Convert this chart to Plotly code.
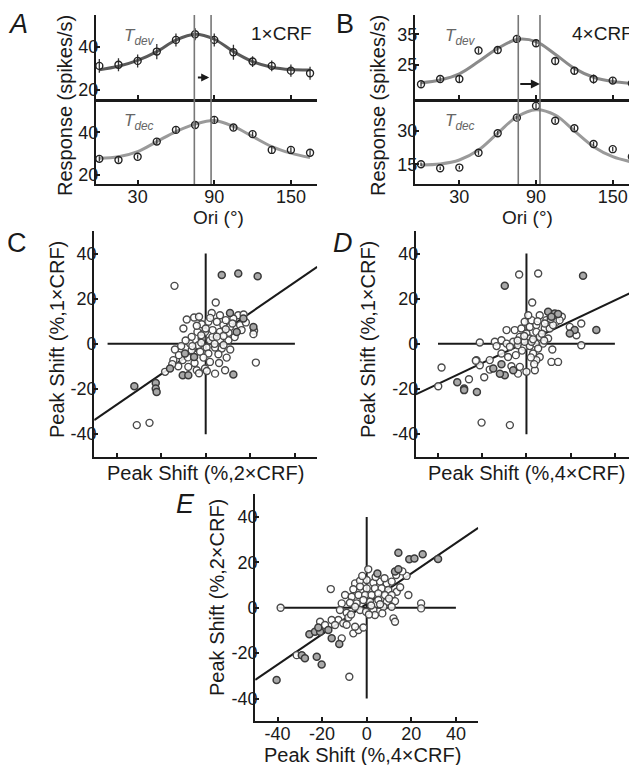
import plotly.graph_objects as go

# Page body has an 8 px default margin, so the figure is drawn 8 px in from the corner.
OFF = 8
W, H = 637 - OFF, 765 - OFF
FONT = "Liberation Sans, Arial, sans-serif"
INK = "#1a1a1a"

# ---------------- Panel A / B data (orientation tuning) ----------------
ori = [0, 15, 30, 45, 60, 75, 90, 105, 120, 135, 150, 165]

a_dev = [31.1, 31.6, 33.4, 37.7, 43.1, 45.7, 43.1, 37.4, 33.1, 31.1, 28.9, 27.7]
a_dev_err = [3.2, 3.0, 3.0, 3.5, 3.0, 2.8, 3.0, 3.5, 2.5, 2.5, 2.8, 3.0]
a_dev_fit = [29.3, 30.9, 33.6, 37.7, 43.0, 45.7, 43.4, 37.7, 33.1, 30.5, 29.4, 29.2]

a_dec = [27.5, 27.0, 28.5, 35.6, 41.1, 43.4, 45.8, 42.2, 39.1, 31.7, 31.7, 30.4]
a_dec_err = [1.2, 1.2, 1.0, 1.5, 1.5, 1.5, 1.5, 1.2, 1.2, 1.5, 1.2, 1.2]
a_dec_fit = [27.8, 28.5, 30.9, 35.6, 40.3, 43.8, 45.5, 42.7, 38.0, 33.3, 30.2, 28.1]

b_dev = [18.7, 20.4, 20.4, 29.7, 29.9, 33.5, 32.1, 26.3, 23.1, 20.4, 19.9, 19.0]
b_dev_err = [0.8, 0.8, 1.0, 0.8, 1.0, 1.2, 1.2, 1.0, 1.2, 1.5, 1.0, 0.8]
b_dev_fit = [19.2, 20.1, 22.1, 26.1, 30.4, 33.3, 32.6, 28.5, 23.9, 21.0, 19.6, 19.0]

b_dec = [15.0, 13.2, 13.5, 20.2, 29.0, 36.0, 41.3, 34.6, 31.2, 24.1, 21.8, 18.4]
b_dec_err = [0.8, 0.8, 0.8, 1.0, 1.0, 1.0, 1.2, 1.0, 1.0, 1.0, 1.0, 1.0]
b_dec_fit = [14.7, 15.1, 16.9, 21.4, 29.0, 36.4, 39.6, 37.2, 30.0, 22.9, 18.4, 16.0]

a_peaks = [74.4, 87.5]
b_peaks = [76.1, 93.1]
a_arrow_x = [76.0, 86.0]
a_arrow_y = 25.7
b_arrow_x = [76.5, 93.0]
b_arrow_y = 18.8

ori_ticks = [30, 90, 150]
a_yticks = [20, 40]
b_top_yticks = [25, 35]
b_bot_yticks = [15, 30]

# ---------------- Panel C: 2xCRF (x) vs 1xCRF (y) ----------------
c_open_x = [-14, 4.5, -8.5, -5.2, -10, 2.7, 6.4, 14.6, 12.4, 5, 1.2, -1.8, 7.9, 10.9, 15.4, 21.7, 21.4,
            16.1, 10.2, 6.4, 3.1, -0.3, -3.7, -6.3, -1.8, 1.9, 6.4, 10.2, -7, -3.3, 0.4, 4.2, 7.2, -6.3,
            -2.5, 1.2, 5.7, 9.4, -13.8, -1, 1.9, -10.3, -14.5, -12.3, -7.8, -4, -0.3, 4.2, 8.7, 22.5,
            -18.2, -30.9, -25.2, 3, 8, 12, 9, 2, -4, -2, 4, 8, -9, -11, -5, -8, -12, 13, 18, -3, 0.5, 6,
            -2, 5, 9, -6, 11, -15, 17, -3, 0]
c_open_y = [25.7, 18.3, 10.8, 11.7, 6.8, 13.7, 12.7, 12.7, 11.2, 9.8, 9.8, 8.7, 8.3, 7.5, 8.3, 5.8, 4.3,
            6.1, 4.9, 5.3, 6.1, 5.3, 5.3, 3.1, 2.4, 1.6, 1.6, 1.6, 0.1, -0.6, -1.6, -1.6, -2.1, -2.8,
            -3.5, -4.3, -4.6, -6.1, -2.5, -6.1, -8, -7.2, -7.2, -9.9, -10.2, -11.7, -10.9, -13.2, -11.7, -8.3,
            -12.4, -36, -35, 3, 3.5, 9, 10.5, 11.5, 8, 0.5, 0, -0.5, 1.5, -1, -8.5, -6, -5, 3, 9.5, -13, -12, -8.5,
            3.8, 3.2, 6.5, -1, -2.5, -9, 13, 12, 6.8]
c_dark_x = [7.2, 14.6, 23.3, -32, -22.4, -22.4, -22, 10.9, -16, -10.3, 13.9, -5.2, 21.4, -7.8, 16.9, -9.3, 12.4]
c_dark_y = [30.5, 31.2, 30, -18.8, -17.3, -19.8, -21.3, 13.7, -10.9, -13.9, 5.3, -5.8, 7.5, -13.9, 11.2, -4.3, -13.6]
c_fit_x = [-50, 50]
c_fit_y = [-33.8, 34.1]
c_cross_h = [-44, 40]
c_cross_v = [-40, 40]

# ---------------- Panel D: 4xCRF (x) vs 1xCRF (y) ----------------
d_open_x = [-3.3, 5.3, 2.6, -38.4, -21.1, -22.6, -21.1, -16.6, -6.8, -3.8, 0, 3.8, -3, -8.3, -4.8, -11.3,
            -14.3, -11.3, -13.5, -9, -6, -7.5, -3.8, -1, 1.5, 4.2, 7.5, 5.3, 3, 6, 4.5, 11.3, 14.3, 11.7,
            -9, -5.3, -2.3, 1.5, 4.5, 8.3, 10.5, -0.8, 2.3, 6, 0.8, 9, 13.5, 12, 8.3, 4.5, 0, -3, 1.5, 6,
            9.8, 19.6, 22.6, 24.8, 24.8, -0.8, 2.3, -39.9, -26, -20.3, -7.5, -22.9, -19.1, -16.6,
            7, 11, 3, -2, 16, 2, 5, -1, 8, 15, -4, 3.5]
d_open_y = [30.7, 31.2, 18.3, -10.5, 0.6, -7.2, -9.5, -7.2, -9.9, -13.2, -12.4, -11.7, -10.2, -5.8, -5, -4.3,
            0.9, 1.6, -1, 0.1, 0.9, -1.3, -0.6, -1.3, -1, 0.1, 0.1, -2.1, -4.3, -5.8, -7.2, -8, -8, -2.5,
            6.1, 6.1, 6.8, 7.5, 8.3, 6.8, 6.8, 9.8, 10.5, 12.7, 12.7, 10.5, 9.8, 8.3, 9, 5.3, 4.6, 3.1, 2.4, 3.1,
            2.4, 7.5, 3.8, 9, -0.6, 0.9, 0.9, -18.8, -15.7, -34.9, -36, -7.5, -14.8, -11.4,
            4.5, 11, 2, -3, 12, -6, 10, 3.5, 1.5, 10.5, 1.5, -9]
d_dark_x = [25.6, -9.8, -31.3, -28.2, -28.2, -22.4, -11.3, -9.8, -12, 9.8, 12.8, 14.3, 31.6, 21.8, 19.6, -6, -15, 11.3]
d_dark_y = [30.2, 25.7, -17, -19.8, -20.5, -21.3, -9, -13.9, -13.2, 14.2, 13.5, 13.2, 6.1, 6.1, 4.6, -11.7, -10.9, 12]
d_fit_x = [-50, 50]
d_fit_y = [-22.4, 23.9]
d_cross_h = [-40, 40]
d_cross_v = [-40, 40]

# ---------------- Panel E: 4xCRF (x) vs 2xCRF (y) ----------------
e_open_x = [-38.6, 0.7, -16.1, 13.2, 17.9, 18.7, 24.4, 24.4, 12, 12.7, -5.2, -3, 0, 3, 6, 9, 11.2, -3, -6, 0,
            3.7, 6.7, 9.7, 13.5, -9.7, -6.7, -3.7, -0.7, 2.2, 5.2, 8.2, 11.2, 12.7, 9, 5.2, 1.5, -1.5, -4.5,
            -7.5, -11.2, -12, -9, -3, -0.3, 3, 3.7, 7.5, 11.2, -5.2, -8.2, -12.7, -15.7, -10.5, -14.2, -20.9,
            -20.9, -18.7, -11.2, -6, -3.7, -1.5, -5.2, -31.4, -7.8, 2, 6, 4, 8, -2, 10, 1, -7, 15, 7, 16, -9]
e_open_y = [0, 16.9, 8.2, 14.4, 14, 5.6, 1.9, -0.3, -4.7, -6.2, 10.7, 11.9, 12.2, 11, 11.5, 10.7, 11.5, 9.3, 8.1, 8.5,
            8.5, 8.5, 7.8, 7, 5.6, 4.8, 5.6, 5.6, 5.6, 6.3, 5.6, 5.6, 2.9, 2.6, 3.4, 2.6, 3.4, 1.9,
            2.2, 1.9, -1, -2.2, -1, -1.8, -1, -3.2, 0.4, 0.4, 0.4, -4.3, -5.4, -5.4, -6.9, -7.6, -6.2,
            -10.6, -7.6, -13.5, -11.3, -9.8, -8.7, -8.4, -20.9, -30.4, 1, 1.5, 13.5, 13, 14, 4, -3, -3, 9, -2.5, 16, -7.5]
e_dark_x = [14.2, 19.1, 21.4, 25.1, 32, -40.4, -29.1, -27.7, -22.4, -20.2, -25.7, -23.2, -20.9, -15.7, -12.3,
            12.7, 14.2, 4.8, -21.7, -17.2]
e_dark_y = [24.2, 21.3, 21.7, 23.5, 21.5, -31.9, -20.9, -22.3, -21.6, -25, -11.7, -10.6, -10.6, -13.5, -16,
            15.9, 16.9, 15.1, -8.7, -9.8]
e_fit_x = [-50, 50]
e_fit_y = [-31.8, 35.2]
e_cross_h = [-40, 40]
e_cross_v = [-40, 40]

shift_ticks = [-40, -20, 0, 20, 40]
shift_ticktext = ["-40", "-20", "0", "20", "40"]


# ---------------- helpers (reference-pixel -> paper) ----------------
def px(p):
    return (p - OFF) / W


def py(p):
    return 1 - (p - OFF) / H


fig = go.Figure()


def tuning(xa, ya, data, err, fit, fit_color):
    fig.add_trace(go.Scatter(x=ori, y=fit, mode="lines", xaxis=xa, yaxis=ya,
                             line=dict(shape="spline", smoothing=1.0, color=fit_color, width=3),
                             hoverinfo="skip", showlegend=False))
    fig.add_trace(go.Scatter(x=ori, y=data, mode="markers", xaxis=xa, yaxis=ya,
                             marker=dict(symbol="circle-open", size=7, color="#222",
                                         line=dict(width=1.4, color="#222")),
                             error_y=dict(type="data", array=err, visible=True, color="#333",
                                          thickness=1.3, width=0),
                             showlegend=False))


tuning("x", "y", a_dev, a_dev_err, a_dev_fit, "#5a5a5a")
tuning("x2", "y2", a_dec, a_dec_err, a_dec_fit, "#9a9a9a")
tuning("x3", "y3", b_dev, b_dev_err, b_dev_fit, "#8a8a8a")
tuning("x4", "y4", b_dec, b_dec_err, b_dec_fit, "#9a9a9a")


def scatter_panel(xa, ya, ox, oy, dx, dy, fx, fy, ch, cv):
    fig.add_trace(go.Scatter(x=ch, y=[0, 0], mode="lines", xaxis=xa, yaxis=ya,
                             line=dict(color=INK, width=2), showlegend=False, hoverinfo="skip"))
    fig.add_trace(go.Scatter(x=[0, 0], y=cv, mode="lines", xaxis=xa, yaxis=ya,
                             line=dict(color=INK, width=2), showlegend=False, hoverinfo="skip"))
    fig.add_trace(go.Scatter(x=fx, y=fy, mode="lines", xaxis=xa, yaxis=ya,
                             line=dict(color=INK, width=2), showlegend=False, hoverinfo="skip"))
    fig.add_trace(go.Scatter(x=ox, y=oy, mode="markers", xaxis=xa, yaxis=ya,
                             marker=dict(symbol="circle", size=7, color="rgba(255,255,255,0.85)",
                                         line=dict(width=1.4, color="#4a4a4a")),
                             showlegend=False))
    fig.add_trace(go.Scatter(x=dx, y=dy, mode="markers", xaxis=xa, yaxis=ya,
                             marker=dict(symbol="circle", size=7, color="#a8a8a8",
                                         line=dict(width=1.5, color="#3a3a3a")),
                             showlegend=False))


scatter_panel("x5", "y5", c_open_x, c_open_y, c_dark_x, c_dark_y, c_fit_x, c_fit_y, c_cross_h, c_cross_v)
scatter_panel("x6", "y6", d_open_x, d_open_y, d_dark_x, d_dark_y, d_fit_x, d_fit_y, d_cross_h, d_cross_v)
scatter_panel("x7", "y7", e_open_x, e_open_y, e_dark_x, e_dark_y, e_fit_x, e_fit_y, e_cross_h, e_cross_v)

# ---------------- axes ----------------
base = dict(showline=True, linecolor=INK, linewidth=2, ticks="inside", ticklen=4,
            tickcolor=INK, tickwidth=1.5, showgrid=False, zeroline=False,
            tickfont=dict(size=18, family=FONT, color=INK), fixedrange=True)
bx = dict(base, ticklabelstandoff=-5)
by = dict(base, ticklabelstandoff=-8)

A_X = [px(96), px(316.7)]
B_X = [px(415), 1.0]
TOP_Y = [py(99), py(15)]
BOT_Y = [py(184), py(99)]

layout_axes = dict(
    xaxis=dict(bx, domain=A_X, range=[-2.6, 170.2], tickvals=ori_ticks, showticklabels=False,
               anchor="y", linewidth=2.5),
    yaxis=dict(by, domain=TOP_Y, range=[15.8, 54.6], tickvals=a_yticks, anchor="x"),
    xaxis2=dict(bx, domain=A_X, range=[-2.6, 170.2], tickvals=ori_ticks, anchor="y2"),
    yaxis2=dict(by, domain=BOT_Y, range=[15.7, 55.6], tickvals=a_yticks, anchor="x2"),
    xaxis3=dict(bx, domain=B_X, range=[-4.7, 169], tickvals=ori_ticks, showticklabels=False,
                anchor="y3", linewidth=2.5),
    yaxis3=dict(by, domain=TOP_Y, range=[13.9, 41.3], tickvals=b_top_yticks, anchor="x3"),
    xaxis4=dict(bx, domain=B_X, range=[-4.7, 169], tickvals=ori_ticks, anchor="y4"),
    yaxis4=dict(by, domain=BOT_Y, range=[6.1, 44.4], tickvals=b_bot_yticks, anchor="x4"),
    xaxis5=dict(bx, domain=[px(94.2), px(317.2)], range=[-50, 50], tickvals=shift_ticks,
                showticklabels=False, anchor="y5"),
    yaxis5=dict(by, domain=[py(456.7), py(231)], range=[-50, 50], tickvals=shift_ticks,
                ticktext=shift_ticktext, anchor="x5"),
    xaxis6=dict(bx, domain=[px(415.9), 1.0], range=[-50, 50], tickvals=shift_ticks,
                showticklabels=False, anchor="y6"),
    yaxis6=dict(by, domain=[py(456.7), py(231)], range=[-50, 50], tickvals=shift_ticks,
                ticktext=shift_ticktext, anchor="x6"),
    xaxis7=dict(bx, domain=[px(255.2), px(478.2)], range=[-50, 50], tickvals=shift_ticks,
                ticktext=shift_ticktext, anchor="y7"),
    yaxis7=dict(by, domain=[py(721.2), py(494.2)], range=[-50, 50], tickvals=shift_ticks,
                ticktext=shift_ticktext, anchor="x7"),
)

# ---------------- shapes (peak markers spanning both tuning rows) ----------------
shapes = []
for xv in a_peaks:
    shapes.append(dict(type="line", xref="x", yref="paper", x0=xv, x1=xv, y0=py(184), y1=py(15),
                       line=dict(color="#777", width=1.6)))
for xv in b_peaks:
    shapes.append(dict(type="line", xref="x3", yref="paper", x0=xv, x1=xv, y0=py(184), y1=py(15),
                       line=dict(color="#777", width=1.6)))

# ---------------- annotations ----------------
ann = []


def text(x, y, s, size=18, angle=0, xanchor="center", color=INK, italic=False):
    if italic:
        s = "<i>" + s + "</i>"
    ann.append(dict(x=px(x), y=py(y), xref="paper", yref="paper", text=s, showarrow=False,
                    textangle=angle, xanchor=xanchor, yanchor="middle",
                    font=dict(family=FONT, size=size, color=color)))


# arrows
ann.append(dict(x=a_arrow_x[1], y=a_arrow_y, ax=a_arrow_x[0], ay=a_arrow_y, xref="x", yref="y",
                axref="x", ayref="y", text="", showarrow=True, arrowhead=2, arrowsize=0.8,
                arrowwidth=2, arrowcolor=INK))
ann.append(dict(x=b_arrow_x[1], y=b_arrow_y, ax=b_arrow_x[0], ay=b_arrow_y, xref="x3", yref="y3",
                axref="x3", ayref="y3", text="", showarrow=True, arrowhead=2, arrowsize=0.9,
                arrowwidth=2, arrowcolor=INK))

# panel letters
text(18, 24, "A", size=27, italic=True)
text(345, 24, "B", size=27)
text(17, 243, "C", size=27)
text(343, 243, "D", size=27, italic=True)
text(185, 504, "E", size=27, italic=True)

# in-panel labels
text(122, 37, "T<sub>dev</sub>", size=17, xanchor="left", color="#666", italic=True)
text(122, 122, "T<sub>dec</sub>", size=17, xanchor="left", color="#666", italic=True)
text(443, 37, "T<sub>dev</sub>", size=17, xanchor="left", color="#666", italic=True)
text(443, 122, "T<sub>dec</sub>", size=17, xanchor="left", color="#666", italic=True)
text(314, 33, "1×CRF", size=19, xanchor="right")
text(635, 33, "4×CRF", size=19, xanchor="right")

# axis titles
text(65, 106, "Response (spikes/s)", size=20, angle=-90)
text(378, 106, "Response (spikes/s)", size=20, angle=-90)
text(218, 217, "Ori (°)", size=19)
text(527, 217, "Ori (°)", size=19)
text(57, 340, "Peak Shift (%,1×CRF)", size=20, angle=-90)
text(205, 473, "Peak Shift (%,2×CRF)", size=20)
text(368, 340, "Peak Shift (%,1×CRF)", size=20, angle=-90)
text(526, 473, "Peak Shift (%,4×CRF)", size=20)
text(217, 598, "Peak Shift (%,2×CRF)", size=20, angle=-90)
text(362, 755, "Peak Shift (%,4×CRF)", size=20)

fig.update_layout(
    width=W, height=H, autosize=False,
    margin=dict(l=0, r=0, t=0, b=0, pad=0),
    paper_bgcolor="white", plot_bgcolor="white",
    showlegend=False,
    font=dict(family=FONT, color=INK),
    shapes=shapes, annotations=ann,
    **layout_axes,
)

fig.write_html("out.html")
